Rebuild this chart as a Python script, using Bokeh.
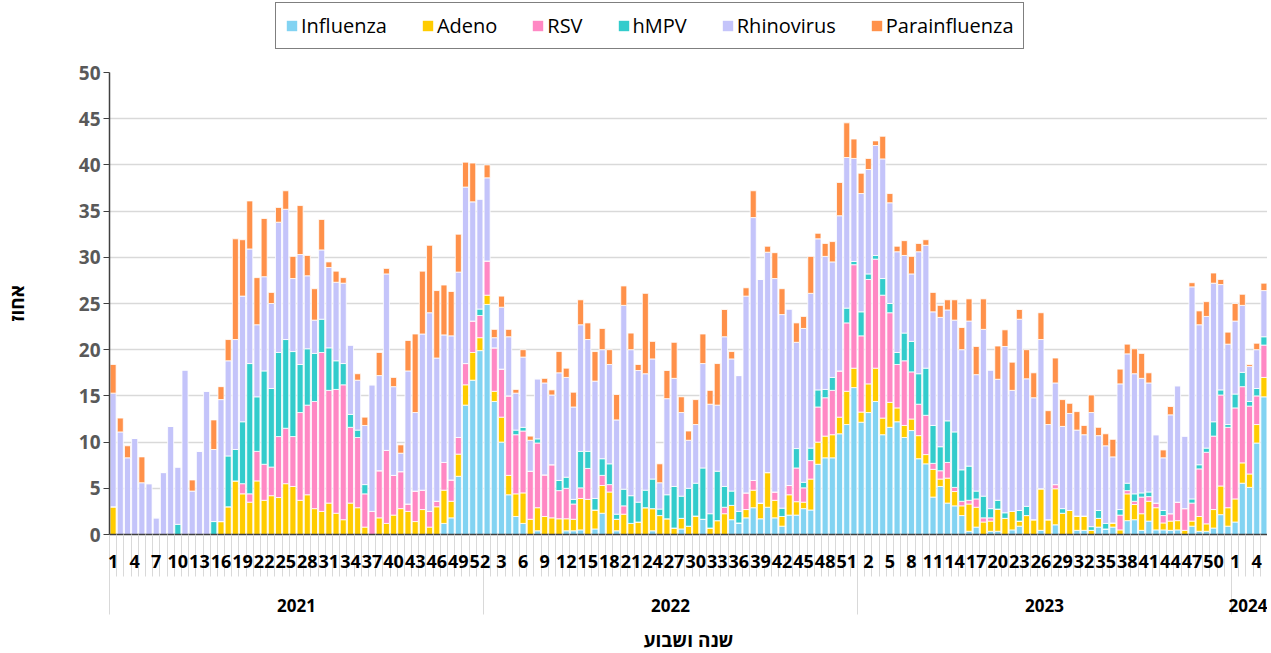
from bokeh.plotting import figure
from bokeh.layouts import column
from bokeh.models import ColumnDataSource, FixedTicker, LinearAxis, Range1d, Legend, LegendItem, AllLabels
from bokeh.embed import file_html
from bokeh.resources import INLINE

years = ["2021", "2022", "2023", "2024"]
weeks_in_year = [52, 52, 52, 5]
series = ["Influenza", "Adeno", "RSV", "hMPV", "Rhinovirus", "Parainfluenza"]
colors = ["#82D3F2", "#FFCC00", "#FF88C4", "#33CCCC", "#C4C4FA", "#FF914A"]

# ---- values (percent), per year ----
influenza_2021 = [0,0,0,0,0,0,0,0,0,0, 0,0,0,0,0,0,0,0,0,0, 0,0,0,0,0,0,0,0,0,0,
                  0,0,0,0,0,0,0,0,0,0, 0,0,0,0,0,0,1.2,1.8,6.3,14.0, 16.7,19.9]
influenza_2022 = [24.9,14.4,10.0,4.3,1.95,1.2,0,0.4,0,0, 0,0.4,0.4,0.5,0,0.6,2.3,0,0.4,0,
                  0,0,0,0.4,0,0,0,0.6,0,0, 1.65,0,0,0,1.6,1.25,1.8,2.9,1.7,2.95,
                  1.8,0.9,2.1,2.1,2.8,2.65,7.6,8.3,8.3,10.9, 11.9,15.9]
influenza_2023 = [12.15,13.2,14.4,10.8,11.6,12.2,10.5,11.25,8.2,7.65, 4.05,5.2,3.4,3.1,2.05,0.35,0.8,0,0.35,0.35,
                  0,0.5,0.9,0,0,0.45,0,1.05,0,0, 0.45,0.45,0,0.8,0.6,0.8,0,1.5,1.6,0.45,
                  1.45,0.5,0.5,0.45,0.5,0,0.9,0.35,0.35,0.7, 2.15,0.9]
influenza_2024 = [1.35,5.55,5.1,9.9,14.9]

adeno_2021 = [3.0,0,0,0,0,0,0,0,0,0, 0,0,0,0,0,1.4,3.0,5.8,4.4,3.5, 5.8,3.7,4.2,4.0,5.5,5.2,3.7,4.3,2.8,2.5,
              3.4,2.3,1.6,3.4,2.9,0.8,0,1.8,1.2,2.1, 2.8,2.5,1.4,2.7,0.8,3.0,3.6,1.8,2.4,2.2, 3.0,1.4]
adeno_2022 = [1.0,1.1,2.7,2.1,2.45,3.3,1.65,2.5,1.95,1.8, 1.7,1.3,1.25,3.4,3.8,2.05,3.0,4.6,1.25,2.2,
              1.2,1.35,2.9,2.4,2.05,1.7,0.7,1.15,0.9,2.0, 0,0.7,1.5,2.25,1.55,0,0.9,1.9,1.7,3.75,
              1.9,1.05,2.2,1.45,0.7,3.35,2.4,2.35,2.5,1.8, 3.6,2.1]
adeno_2023 = [1.1,3.1,3.6,1.8,2.7,1.5,1.3,1.25,2.5,1.0, 3.0,0.8,2.7,1.55,1.05,2.95,2.15,1.35,1.1,2.4,
              1.75,2.0,0.55,2.05,1.6,4.5,1.6,3.9,2.3,2.6, 1.55,1.55,0.45,0.95,0,0.45,0.5,2.9,1.65,1.8,
              2.15,2.4,0.75,1.0,1.0,0.45,0.55,1.6,0.8,2.0, 3.1,2.0]
adeno_2024 = [2.5,2.2,1.45,2.0,2.1]

rsv_2021 = [0,0,0,0,0,0,0,0,0,0, 0,0,0,0,0,0,0,0,1.1,0.9, 3.2,3.9,3.1,6.6,6.0,5.4,9.5,9.7,11.6,17.2,
            12.2,13.4,14.6,8.2,7.6,3.6,2.5,5.1,7.9,4.3, 4.0,0.8,3.3,2.1,1.7,0.6,3.0,2.3,1.8,2.3, 3.4,2.4]
rsv_2022 = [3.7,4.7,5.2,8.6,6.4,6.7,5.2,7.0,4.5,5.75, 3.05,3.3,1.65,1.15,3.35,0,1.1,0.8,0,0.9,
            0,0,0,0,0,0,0,0,0,0, 0,0,0,0.7,0,0,1.8,1.05,0,0,
            0.9,0,1.0,3.65,1.55,2.0,3.8,4.15,4.8,5.0, 7.4,11.2]
rsv_2023 = [8.25,11.3,11.8,13.3,9.7,4.7,7.0,5.1,3.4,4.25, 0.65,0.9,1.7,0.45,0.5,0.4,0.9,0.45,0.35,0,
            0,0,0,0,0,0,0,0.45,0,0, 0,0,0,0,0,0,1.6,0.35,0.35,1.8,
            0.5,0.5,0.8,0.8,2.0,2.35,1.95,5.15,7.75,7.95, 9.85,8.7]
rsv_2024 = [9.85,8.25,7.35,3.1,3.5]

hmpv_2021 = [0,0,0,0,0,0,0,0,0,1.1, 0,0,0,0,1.4,0,5.5,3.4,6.7,14.1, 5.9,10.1,8.5,9.1,9.6,9.2,5.2,6.1,5.2,3.6,
             4.6,3.1,2.3,1.4,0.8,1.0,0,0,0,0, 0,0,0,0,0,0,0,0,0,0, 0,0.7]
hmpv_2022 = [0,0,0,0,0.5,0.4,0,0.45,0,0, 1.1,1.2,0.5,3.95,1.85,1.25,1.8,2.25,0.55,1.8,
             3.0,2.15,1.9,3.2,0.7,2.6,4.5,2.4,4.1,3.55, 5.55,1.55,5.35,2.25,1.55,1.25,0,0,0,0,
             0,0.9,0,2.1,0.6,1.35,1.85,0.9,1.4,0, 1.6,0.35]
hmpv_2023 = [2.6,0.6,0.4,1.8,1.0,1.3,3.0,3.3,3.3,5.1, 4.1,2.6,4.5,6.0,3.4,3.7,0.85,2.35,1.0,0.95,
             0.6,0,1.15,1.0,0,0,0,0,0.5,0, 0,0,0.4,0.85,0.6,0,0.6,0.8,0.8,0.45,
             0.5,0,0.55,0,0,0,0.45,0.45,0.45,1.55, 0.55,0.3]
hmpv_2024 = [1.5,1.55,0.5,0.8,0.9]

rhino_2021 = [12.3,11.1,8.3,10.4,5.6,5.5,1.8,6.7,11.7,6.2, 17.8,4.7,9.0,15.5,7.8,13.2,10.3,11.9,13.6,12.4,
              7.8,10.2,9.2,14.1,14.1,7.9,11.9,7.9,3.6,7.5, 8.7,8.5,8.7,7.5,5.4,6.4,13.7,10.3,19.1,9.6,
              2.0,14.4,8.5,16.9,21.5,15.5,13.8,15.6,17.9,19.1, 12.9,11.9]
rhino_2022 = [9.0,1.1,6.7,6.4,4.0,7.6,3.35,6.5,9.95,7.55, 11.65,10.8,10.0,13.7,12.1,12.7,11.8,10.75,10.2,19.9,
              15.8,14.25,12.6,13.0,2.85,10.4,11.7,9.05,5.2,6.35, 11.3,11.85,7.15,16.2,14.3,14.7,21.3,28.45,24.2,23.85,
              23.1,20.95,19.1,11.5,16.65,16.75,16.35,14.4,12.5,16.8, 16.3,11.15]
rhino_2023 = [12.8,11.3,11.9,12.95,10.9,10.9,8.4,7.3,13.2,13.3, 12.3,14.0,12.0,12.1,13.0,15.7,12.6,18.05,15.0,13.1,
              18.0,13.1,20.7,13.8,13.2,16.15,10.3,11.0,8.9,10.5, 9.3,8.8,12.35,8.1,8.4,7.15,13.6,14.0,13.0,12.4,
              11.8,7.4,5.7,10.7,12.6,7.85,22.95,15.15,14.25,15.0, 11.4,8.7]
rhino_2024 = [7.9,7.25,3.8,4.2,5.0]

para_2021 = [3.1,1.5,1.3,0,2.8,0,0,0,0,0, 0,1.2,0,0,3.2,1.4,2.3,10.9,6.1,5.2, 5.1,6.3,1.2,1.6,2.0,2.4,5.3,2.2,3.4,3.3,
             0.6,1.2,0.6,0,0.7,0.9,0,2.5,0.6,1.0, 0.9,3.3,8.5,6.8,7.3,7.3,5.4,4.8,4.1,2.7, 4.2,0]
para_2022 = [1.4,0.9,1.2,0.8,0.4,0.8,0.45,0,0.5,0.55, 2.3,1.0,1.6,2.7,1.8,3.2,2.3,1.6,2.75,2.1,
             1.8,0.65,8.7,1.9,2.05,3.05,3.9,1.7,1.0,2.7, 3.2,1.5,4.5,2.95,0.8,0,0.9,2.9,0,0.65,
             2.8,2.8,0,2.1,1.3,4.0,0.6,1.4,2.2,3.6, 3.75,2.1]
para_2023 = [2.2,1.2,0.5,2.45,1.0,0.6,1.6,1.9,0.9,0.6, 2.1,1.3,1.1,2.2,2.4,2.4,3.05,3.3,0,3.6,
             1.8,3.05,1.05,3.15,2.7,2.9,1.5,2.7,2.9,1.1, 2.0,1.0,1.9,0.9,1.3,1.9,1.6,1.05,2.7,2.7,
             1.1,0,0.85,0.9,0,0,0.45,1.5,1.6,1.1, 0.55,1.3]
para_2024 = [1.9,1.2,0.2,0.7,0.8]

y_ticks = [0, 5, 10, 15, 20, 25, 30, 35, 40, 45, 50]

# ---- build table ----
influenza = influenza_2021 + influenza_2022 + influenza_2023 + influenza_2024
adeno = adeno_2021 + adeno_2022 + adeno_2023 + adeno_2024
rsv = rsv_2021 + rsv_2022 + rsv_2023 + rsv_2024
hmpv = hmpv_2021 + hmpv_2022 + hmpv_2023 + hmpv_2024
rhino = rhino_2021 + rhino_2022 + rhino_2023 + rhino_2024
para = para_2021 + para_2022 + para_2023 + para_2024

week_numbers = [w for n in weeks_in_year for w in range(1, n + 1)]
n = len(week_numbers)
xs = list(range(n))
src = ColumnDataSource(dict(x=xs, Influenza=influenza, Adeno=adeno, RSV=rsv, hMPV=hmpv,
                            Rhinovirus=rhino, Parainfluenza=para))

FONT = "Open Sans"
TOTAL_W = 1266
FW, FH = 1158, 462
p = figure(frame_width=FW, frame_height=FH, x_range=Range1d(-0.5, n - 0.5), y_range=Range1d(0, 50),
           output_backend="svg", toolbar_location=None,
           min_border_left=108, min_border_right=0, min_border_top=16, min_border_bottom=0)
p.outline_line_color = None
p.xgrid.visible = False
p.ygrid.grid_line_color = "#D9D9D9"
p.ygrid.grid_line_width = 1.5

rs = p.vbar_stack(series, x="x", width=0.84, color=colors, line_color="white",
                  line_width=0.8, source=src)

# y axis
ya = p.yaxis[0]
ya.ticker = FixedTicker(ticks=y_ticks)
ya.major_label_text_font = FONT
ya.major_label_text_font_size = "19px"
ya.major_label_text_font_style = "bold"
ya.major_label_text_color = "#595959"
ya.axis_line_color = "#404040"
ya.axis_line_width = 1.5
ya.major_tick_line_color = "#404040"
ya.major_tick_out = 6
ya.major_tick_in = 0
ya.minor_tick_line_color = None
ya.major_label_standoff = 3
ya.axis_label = "אחוז"
ya.axis_label_text_font = FONT
ya.axis_label_text_font_size = "19px"
ya.axis_label_text_font_style = "bold"
ya.axis_label_text_color = "black"
ya.axis_label_standoff = 46

# week axis
label_pos = list(range(0, n, 3))
xa = p.xaxis[0]
xa.ticker = FixedTicker(ticks=label_pos, minor_ticks=[i - 0.5 for i in range(n + 1)])
xa.major_label_overrides = {i: str(week_numbers[i]) for i in label_pos}
xa.major_label_policy = AllLabels()
xa.major_label_text_font = FONT
xa.major_label_text_font_size = "18px"
xa.major_label_text_font_style = "bold"
xa.major_label_text_color = "black"
xa.major_tick_line_color = None
xa.major_tick_out = 0
xa.major_tick_in = 0
xa.minor_tick_line_color = "#D9D9D9"
xa.minor_tick_in = 0
xa.minor_tick_out = 42
xa.major_label_standoff = -22
xa.axis_line_color = "#404040"
xa.axis_line_width = 1.5

# year axis
bounds = [-0.5]
for k in weeks_in_year:
    bounds.append(bounds[-1] + k)
centers = [(bounds[i] + bounds[i + 1]) / 2 for i in range(len(years))]
ya2 = LinearAxis(ticker=FixedTicker(ticks=centers, minor_ticks=bounds))
ya2.major_label_overrides = {c: y for c, y in zip(centers, years)}
ya2.major_label_policy = AllLabels()
ya2.major_label_text_font = FONT
ya2.major_label_text_font_size = "17px"
ya2.major_label_text_font_style = "bold"
ya2.major_label_text_color = "black"
ya2.major_tick_line_color = None
ya2.major_tick_out = 0
ya2.major_tick_in = 0
ya2.minor_tick_line_color = "#D9D9D9"
ya2.minor_tick_in = 0
ya2.minor_tick_out = 44
ya2.major_label_standoff = -16
ya2.axis_line_color = None
ya2.axis_label = "שנה ושבוע"
ya2.axis_label_text_font = FONT
ya2.axis_label_text_font_size = "19px"
ya2.axis_label_text_font_style = "bold"
ya2.axis_label_text_color = "black"
ya2.axis_label_standoff = 12
p.add_layout(ya2, "below")

# legend strip above the chart (its frame is aligned with the chart frame)
LH = 56
pl = figure(width=TOTAL_W, height=LH, x_range=Range1d(0, 1), y_range=Range1d(0, 1),
            x_axis_type=None, y_axis_type=None, output_backend="svg", toolbar_location=None,
            min_border=0)
pl.outline_line_color = None
pl.xgrid.visible = False
pl.ygrid.visible = False
dummies = [pl.vbar(x=[10], top=[1], width=1, fill_color=c, line_color=None) for c in colors]
legend = Legend(items=[LegendItem(label=s, renderers=[r]) for s, r in zip(series, dummies)],
                orientation="horizontal", location=(166, LH - 8 - 41))
legend.border_line_color = "black"
legend.border_line_width = 1.5
legend.background_fill_color = "white"
legend.label_text_font = FONT
legend.label_text_font_size = "20px"
legend.label_text_color = "black"
legend.glyph_width = 13
legend.glyph_height = 13
legend.label_standoff = 3
legend.spacing = 34
legend.padding = 9
legend.margin = 0
pl.add_layout(legend, "center")

layout = column(pl, p, spacing=0)
open("out.html", "w").write(file_html(layout, INLINE))
